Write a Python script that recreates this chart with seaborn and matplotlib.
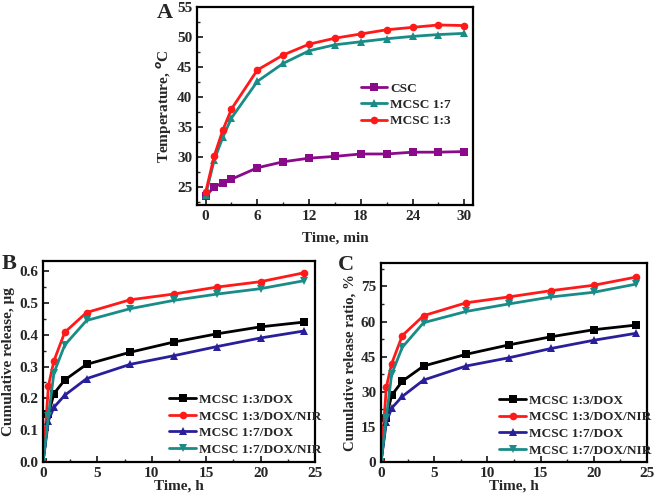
import numpy as np
import pandas as pd
import seaborn as sns
import matplotlib.pyplot as plt
from matplotlib.ticker import MultipleLocator, AutoMinorLocator

# Panel A: photothermal heating
time_min = [0, 1, 2, 3, 6, 9, 12, 15, 18, 21, 24, 27, 30]
temp_csc = [23.5, 25.0, 25.7, 26.3, 28.2, 29.2, 29.8, 30.1, 30.5, 30.5, 30.8, 30.8, 30.9]
temp_mcsc17 = [23.7, 29.5, 33.3, 36.5, 42.6, 45.6, 47.7, 48.7, 49.2, 49.7, 50.1, 50.4, 50.6]
temp_mcsc13 = [24.1, 30.2, 34.5, 38.0, 44.5, 47.0, 48.8, 49.8, 50.5, 51.2, 51.6, 52.0, 51.9]

# Panels B/C: drug release
time_h = [0, 0.5, 1, 2, 4, 8, 12, 16, 20, 24]
rel_13_dox = [0, 0.15, 0.215, 0.258, 0.307, 0.345, 0.377, 0.403, 0.425, 0.44]
rel_13_nir = [0, 0.24, 0.318, 0.408, 0.47, 0.51, 0.528, 0.55, 0.567, 0.595]
rel_17_dox = [0, 0.13, 0.172, 0.21, 0.262, 0.307, 0.334, 0.363, 0.39, 0.412]
rel_17_nir = [0, 0.145, 0.28, 0.368, 0.445, 0.482, 0.508, 0.528, 0.545, 0.57]

ratio_13_dox = [0, 19, 28.5, 34.5, 41, 46, 50, 53.5, 56.5, 58.5]
ratio_13_nir = [0, 32, 42, 54, 62.5, 68, 70.5, 73.2, 75.5, 79]
ratio_17_dox = [0, 17, 23, 28, 35, 41, 44.5, 48.5, 52, 55]
ratio_17_nir = [0, 19, 37.5, 49, 59.5, 64.3, 67.5, 70.5, 72.5, 76]

release_labels = ["MCSC 1:3/DOX", "MCSC 1:3/DOX/NIR", "MCSC 1:7/DOX", "MCSC 1:7/DOX/NIR"]
release_colors = ["black", "#ff1a1a", "#2a1f9a", "#1a8c87"]
release_markers = ["s", "o", "^", "v"]

sns.set_style("ticks")
plt.rcParams["font.family"] = ["Liberation Serif", "DejaVu Serif"]
plt.rcParams["font.weight"] = "bold"
plt.rcParams["axes.labelweight"] = "bold"
plt.rcParams["xtick.direction"] = "in"
plt.rcParams["ytick.direction"] = "in"
plt.rcParams["mathtext.fontset"] = "custom"
plt.rcParams["mathtext.bf"] = "Liberation Serif:bold"
plt.rcParams["mathtext.rm"] = "Liberation Serif:bold"

fig = plt.figure(figsize=(6.6, 4.98), dpi=100)
ax_a = fig.add_axes([0.2985, 0.5884, 0.418, 0.3976])
ax_b = fig.add_axes([0.0652, 0.0723, 0.412, 0.4036])
ax_c = fig.add_axes([0.5773, 0.0723, 0.403, 0.3996])

LEG = {"weight": "bold", "size": 9.6}


def style_axis(ax):
    for sp in ax.spines.values():
        sp.set_linewidth(1.6)
        sp.set_color("black")
    ax.tick_params(which="major", length=4, width=1.3, labelsize=11)
    ax.tick_params(which="minor", length=2.5, width=1.0)
    ax.xaxis.set_minor_locator(AutoMinorLocator(2))
    ax.yaxis.set_minor_locator(AutoMinorLocator(2))
    for lab in ax.get_xticklabels() + ax.get_yticklabels():
        lab.set_fontweight("bold")


# Panel A
for y, lab, col, mk in [
    (temp_csc, "CSC", "#8a0a8a", "s"),
    (temp_mcsc17, "MCSC 1:7", "#1a8c87", "^"),
    (temp_mcsc13, "MCSC 1:3", "#ff1a1a", "o"),
]:
    sns.lineplot(x=time_min, y=y, ax=ax_a, color=col, marker=mk, markersize=5.5,
                 markeredgewidth=0, linewidth=2, label=lab)
ax_a.set_xlim(-1, 31)
ax_a.set_ylim(22, 55)
ax_a.xaxis.set_major_locator(MultipleLocator(6))
ax_a.yaxis.set_major_locator(MultipleLocator(5))
ax_a.set_xlabel("Time, min", fontsize=11, labelpad=6)
ax_a.set_ylabel("Temperature, $^{o}$C", fontsize=11, labelpad=2)
ax_a.legend(loc="upper left", bbox_to_anchor=(0.55, 0.68), frameon=False,
            handlelength=2.0, labelspacing=0.3, handletextpad=0.2, prop=LEG)
style_axis(ax_a)
fig.text(0.262, 0.973, "A", fontsize=16, fontweight="bold", va="center", ha="right")

# Panel B
for y, lab, col, mk in zip([rel_13_dox, rel_13_nir, rel_17_dox, rel_17_nir],
                           release_labels, release_colors, release_markers):
    sns.lineplot(x=time_h, y=y, ax=ax_b, color=col, marker=mk, markersize=5.5,
                 markeredgewidth=0, linewidth=2, label=lab)
ax_b.set_xlim(0, 25)
ax_b.set_ylim(0, 0.632)
ax_b.xaxis.set_major_locator(MultipleLocator(5))
ax_b.yaxis.set_major_locator(MultipleLocator(0.1))
ax_b.set_xlabel("Time, h", fontsize=11, labelpad=0)
ax_b.set_ylabel("Cumulative release, μg", fontsize=11, labelpad=3)
ax_b.legend(loc="upper left", bbox_to_anchor=(0.42, 0.4), frameon=False,
            handlelength=2.0, labelspacing=0.32, handletextpad=0.2, prop=LEG)
style_axis(ax_b)
fig.text(0.003, 0.47, "B", fontsize=16, fontweight="bold", va="center")

# Panel C
for y, lab, col, mk in zip([ratio_13_dox, ratio_13_nir, ratio_17_dox, ratio_17_nir],
                           release_labels, release_colors, release_markers):
    sns.lineplot(x=time_h, y=y, ax=ax_c, color=col, marker=mk, markersize=5.5,
                 markeredgewidth=0, linewidth=2, label=lab)
ax_c.set_xlim(0, 25)
ax_c.set_ylim(0, 85)
ax_c.xaxis.set_major_locator(MultipleLocator(5))
ax_c.yaxis.set_major_locator(MultipleLocator(15))
ax_c.set_xlabel("Time, h", fontsize=11, labelpad=0)
ax_c.set_ylabel("Cumulative release ratio, %", fontsize=10.6, labelpad=3)
ax_c.legend(loc="upper left", bbox_to_anchor=(0.4, 0.4), frameon=False,
            handlelength=2.0, labelspacing=0.32, handletextpad=0.2, prop=LEG)
style_axis(ax_c)
fig.text(0.512, 0.468, "C", fontsize=16, fontweight="bold", va="center")

fig.savefig("out.png", dpi=100)
